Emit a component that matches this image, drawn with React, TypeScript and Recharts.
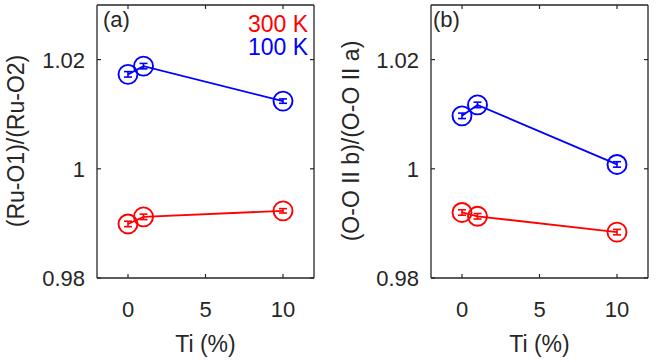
import React from "react";
import { LineChart, Line, XAxis, YAxis, ErrorBar } from "recharts";

// Ti concentration (%)
const tiPercent = [0, 1, 10];

// Panel (a): (Ru-O1)/(Ru-O2)
const ratioA300 = [0.9899, 0.9912, 0.9923];
const errA300 = [0.0005, 0.0005, 0.0004];
const ratioA100 = [1.0173, 1.0188, 1.0124];
const errA100 = [0.0005, 0.0005, 0.0004];

// Panel (b): (O-O II b)/(O-O II a)
const ratioB300 = [0.992, 0.9913, 0.9884];
const errB300 = [0.0005, 0.0005, 0.0005];
const ratioB100 = [1.0097, 1.0117, 1.0008];
const errB100 = [0.0005, 0.0005, 0.0005];

const xTicks = [0, 5, 10];
const yTicks = [0.98, 1, 1.02];
const xDomain = [-2, 12];
const yDomain = [0.98, 1.03];

const AX = "#262626";
const FONT = "Liberation Sans, Arial, Helvetica, sans-serif";
const RED = "#ff0000";
const BLUE = "#0000ff";

const buildRows = (hot: number[], hotErr: number[], cold: number[], coldErr: number[]) =>
  tiPercent.map((ti, i) => ({ ti, r300: hot[i], e300: hotErr[i], r100: cold[i], e100: coldErr[i] }));

const dataA = buildRows(ratioA300, errA300, ratioA100, errA100);
const dataB = buildRows(ratioB300, errB300, ratioB100, errB100);

const TL = 4;

const LeftTick = (props: any) => {
  const { x, y, payload } = props;
  return (
    <g>
      <line x1={x} x2={x + TL} y1={y} y2={y} stroke={AX} strokeWidth={1.2} />
      <text x={x - 12} y={y + 8} textAnchor="end" fontSize={22} fontFamily={FONT} fill={AX}>
        {String(payload.value)}
      </text>
    </g>
  );
};
const RightTick = (props: any) => {
  const { x, y } = props;
  return <line x1={x} x2={x - TL} y1={y} y2={y} stroke={AX} strokeWidth={1.2} />;
};
const BottomTick = (props: any) => {
  const { x, y, payload } = props;
  return (
    <g>
      <line x1={x} x2={x} y1={y} y2={y - TL} stroke={AX} strokeWidth={1.2} />
      <text x={x} y={y + 38.5} textAnchor="middle" fontSize={22} fontFamily={FONT} fill={AX}>
        {String(payload.value)}
      </text>
    </g>
  );
};
const TopTick = (props: any) => {
  const { x, y } = props;
  return <line x1={x} x2={x} y1={y} y2={y + TL} stroke={AX} strokeWidth={1.2} />;
};

const Panel = ({ data, width, left, right }: { data: any[]; width: number; left: number; right: number }) => (
  <LineChart width={width} height={362} data={data} margin={{ top: 3, right: right - 2, bottom: 44, left: left - 50 }}>
    <XAxis
      dataKey="ti"
      type="number"
      domain={xDomain}
      ticks={xTicks}
      allowDataOverflow
      height={40}
      tickSize={0}
      tickMargin={0}
      axisLine={{ stroke: AX, strokeWidth: 1.3 }}
      tick={<BottomTick />}
      interval={0}
    />
    <XAxis
      xAxisId="t"
      orientation="top"
      dataKey="ti"
      type="number"
      domain={xDomain}
      ticks={xTicks}
      allowDataOverflow
      height={2}
      tickSize={0}
      tickMargin={0}
      axisLine={{ stroke: AX, strokeWidth: 1.3 }}
      tick={<TopTick />}
      interval={0}
    />
    <YAxis
      type="number"
      domain={yDomain}
      ticks={yTicks}
      allowDataOverflow
      width={50}
      tickSize={0}
      tickMargin={0}
      axisLine={{ stroke: AX, strokeWidth: 1.3 }}
      tick={<LeftTick />}
      interval={0}
    />
    <YAxis
      yAxisId="r"
      orientation="right"
      type="number"
      domain={yDomain}
      ticks={yTicks}
      allowDataOverflow
      width={2}
      tickSize={0}
      tickMargin={0}
      axisLine={{ stroke: AX, strokeWidth: 1.3 }}
      tick={<RightTick />}
      interval={0}
    />
    <Line
      dataKey="r300"
      stroke={RED}
      strokeWidth={1.8}
      isAnimationActive={false}
      dot={{ r: 9.5, fill: "none", stroke: RED, strokeWidth: 1.9 }}
      activeDot={false}
    >
      <ErrorBar dataKey="e300" width={4} stroke={RED} strokeWidth={1.6} direction="y" isAnimationActive={false} />
    </Line>
    <Line
      dataKey="r100"
      stroke={BLUE}
      strokeWidth={1.8}
      isAnimationActive={false}
      dot={{ r: 9.5, fill: "none", stroke: BLUE, strokeWidth: 1.9 }}
      activeDot={false}
    >
      <ErrorBar dataKey="e100" width={4} stroke={BLUE} strokeWidth={1.6} direction="y" isAnimationActive={false} />
    </Line>
  </LineChart>
);

export default function App() {
  return (
    <div style={{ position: "absolute", left: 0, top: 0, width: 656, height: 362, background: "#fff" }}>
      <div style={{ position: "absolute", left: 0, top: 0 }}>
        <Panel data={dataA} width={330} left={97} right={16} />
      </div>
      <div style={{ position: "absolute", left: 330, top: 0 }}>
        <Panel data={dataB} width={326} left={101} right={8} />
      </div>
      <svg
        width={656}
        height={362}
        style={{ position: "absolute", left: 0, top: 0, pointerEvents: "none" }}
        fontFamily={FONT}
      >
        <text x={103} y={27} fontSize={22} fill={AX}>(a)</text>
        <text x={433} y={27} fontSize={22} fill={AX}>(b)</text>
        <text x={308} y={31.5} fontSize={23} fill={RED} textAnchor="end">300 K</text>
        <text x={308} y={55} fontSize={23} fill={BLUE} textAnchor="end">100 K</text>
        <text x={205.5} y={352} fontSize={23} fill={AX} textAnchor="middle">Ti (%)</text>
        <text x={539.5} y={352} fontSize={23} fill={AX} textAnchor="middle">Ti (%)</text>
        <text transform="translate(24,141) rotate(-90)" fontSize={23} fill={AX} textAnchor="middle">
          (Ru-O1)/(Ru-O2)
        </text>
        <text transform="translate(359,141) rotate(-90)" fontSize={23} fill={AX} textAnchor="middle">
          (O-O II b)/(O-O II a)
        </text>
      </svg>
    </div>
  );
}
